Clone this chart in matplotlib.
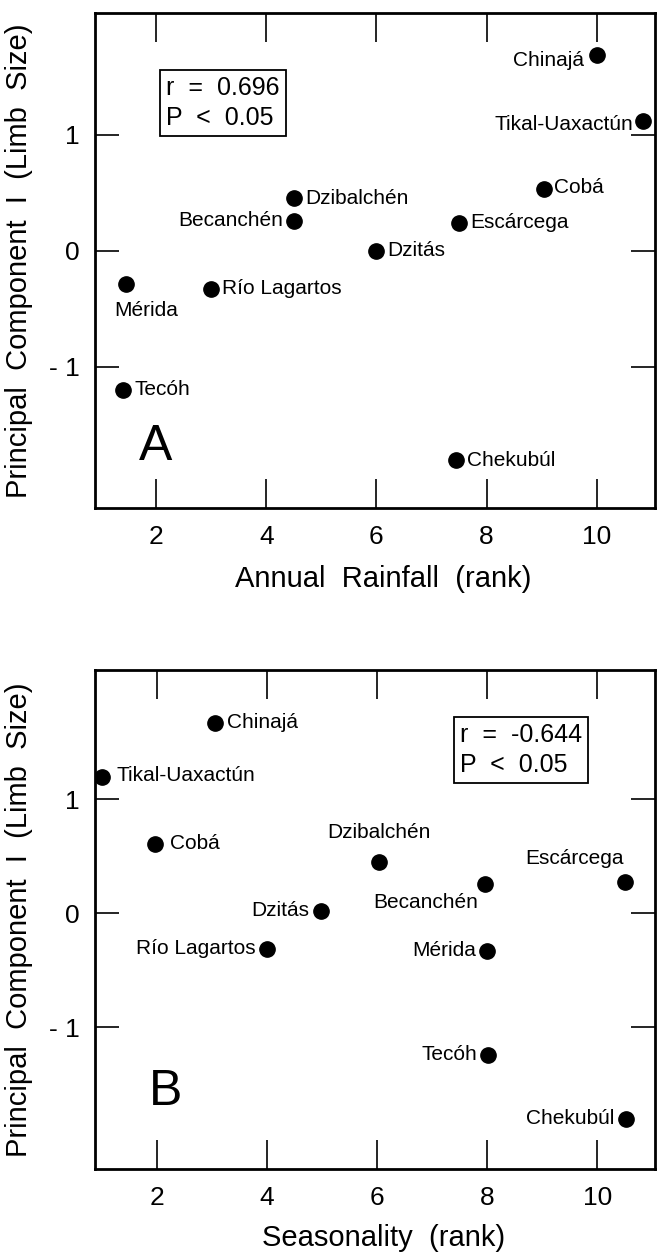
import matplotlib
matplotlib.use("Agg")
import matplotlib.pyplot as plt

plt.rcParams['font.family'] = ['Liberation Sans', 'DejaVu Sans']

sites = ["Chinajá", "Tikal-Uaxactún", "Cobá", "Dzibalchén", "Becanchén",
         "Escárcega", "Dzitás", "Mérida", "Río Lagartos", "Tecóh", "Chekubúl"]

# Panel A: annual rainfall rank vs PC I
rain_rank = [10.0, 10.85, 9.05, 4.5, 4.5, 7.5, 6.0, 1.45, 3.0, 1.4, 7.45]
pc1_a = [1.69, 1.12, 0.53, 0.45, 0.26, 0.24, 0.0, -0.29, -0.33, -1.20, -1.81]

# Panel B: seasonality rank vs PC I
season_rank = [3.05, 1.0, 1.96, 6.04, 7.96, 10.5, 4.97, 8.0, 4.0, 8.02, 10.52]
pc1_b = [1.67, 1.19, 0.61, 0.45, 0.26, 0.27, 0.02, -0.33, -0.31, -1.24, -1.80]

xticks = [2, 4, 6, 8, 10]
xticklabels = ["2", "4", "6", "8", "10"]
yticks = [-1, 0, 1]
yticklabels = ["- 1", "0", "1"]

stats_a = "r  =  0.696\nP  <  0.05"
stats_b = "r  =  -0.644\nP  <  0.05"

# label placement (offset in points, ha, va)
place_a = {
    "Chinajá": ((-9, -4), "right", "center"),
    "Tikal-Uaxactún": ((-7, -3), "right", "center"),
    "Cobá": ((7, 1), "left", "center"),
    "Dzibalchén": ((8, 0), "left", "center"),
    "Becanchén": ((-8, 0), "right", "center"),
    "Escárcega": ((8, 0), "left", "center"),
    "Dzitás": ((8, 0), "left", "center"),
    "Mérida": ((-8, -19), "left", "center"),
    "Río Lagartos": ((8, 0), "left", "center"),
    "Tecóh": ((8, 0), "left", "center"),
    "Chekubúl": ((8, 0), "left", "center"),
}
place_b = {
    "Chinajá": ((9, 0), "left", "center"),
    "Tikal-Uaxactún": ((10, 1), "left", "center"),
    "Cobá": ((11, 0), "left", "center"),
    "Dzibalchén": ((0, 21), "center", "center"),
    "Becanchén": ((-5, -14), "right", "center"),
    "Escárcega": ((-1, 17), "right", "center"),
    "Dzitás": ((-8, 0), "right", "center"),
    "Río Lagartos": ((-8, 0), "right", "center"),
    "Mérida": ((-8, 0), "right", "center"),
    "Tecóh": ((-8, 0), "right", "center"),
    "Chekubúl": ((-8, 0), "right", "center"),
}

fig = plt.figure(figsize=(6.57, 12.59), dpi=100)
axA = fig.add_axes([95/657, 1-508/1259, 560/657, 495/1259])
axB = fig.add_axes([95/657, 1-1169/1259, 560/657, 499/1259])


def style(ax, xlim, ylim, xlabel, letter, letter_xy, stats, stats_xy, xlab_y):
    ax.set_xlim(*xlim)
    ax.set_ylim(*ylim)
    ax.set_xticks(xticks)
    ax.set_xticklabels(xticklabels)
    ax.set_yticks(yticks)
    ax.set_yticklabels(yticklabels)
    ax.tick_params(axis='x', direction='in', length=21, width=1.2,
                   top=True, bottom=True, labelsize=19, pad=12)
    ax.tick_params(axis='y', direction='in', length=17, width=1.2,
                   left=True, right=True, labelsize=19, pad=11)
    for s in ax.spines.values():
        s.set_linewidth(2.0)
    ax.set_xlabel(xlabel, fontsize=21)
    ax.xaxis.set_label_coords(0.515, xlab_y)
    ax.set_ylabel("Principal  Component  I  (Limb  Size)", fontsize=21)
    ax.yaxis.set_label_coords(-0.11, 0.5)
    ax.text(letter_xy[0], letter_xy[1], letter, fontsize=36,
            ha='left', va='baseline')
    ax.text(stats_xy[0], stats_xy[1], stats, fontsize=18, ha='left', va='top',
            transform=ax.transAxes, linespacing=1.3,
            bbox=dict(boxstyle='square,pad=0.25', fc='white', ec='black', lw=1.3))


def draw(ax, xs, ys, place):
    ax.plot(xs, ys, 'o', color='black', ms=11, ls='none')
    for name, x, y in zip(sites, xs, ys):
        off, ha, va = place[name]
        ax.annotate(name, (x, y), xytext=off, textcoords='offset points',
                    ha=ha, va=va, fontsize=15)


draw(axA, rain_rank, pc1_a, place_a)
style(axA, (0.89, 11.06), (-2.22, 2.05), "Annual  Rainfall  (rank)", "A",
      (1.69, -1.81), stats_a, (0.127, 0.873), -0.115)

draw(axB, season_rank, pc1_b, place_b)
style(axB, (0.87, 11.05), (-2.24, 2.13), "Seasonality  (rank)", "B",
      (1.85, -1.68), stats_b, (0.652, 0.894), -0.11)

fig.savefig("out.png", dpi=100)
